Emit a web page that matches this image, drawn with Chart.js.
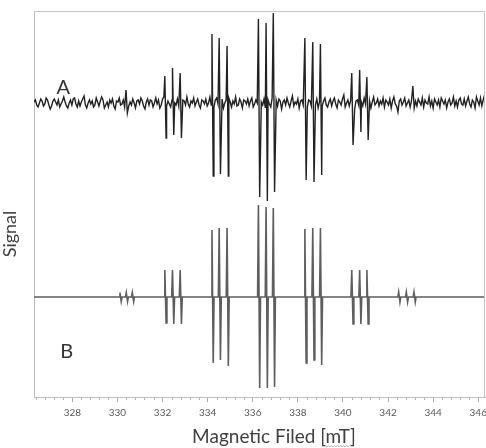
<!DOCTYPE html>
<html>
<head>
<meta charset="utf-8">
<script src="https://cdn.jsdelivr.net/npm/chart.js@4.4.1/dist/chart.umd.min.js"></script>
<style>
  html, body { margin: 0; padding: 0; background: #ffffff; }
  #wrap { width: 486px; height: 448px; }
</style>
</head>
<body>
<div id="wrap"><canvas id="spectrum" width="486" height="448"></canvas></div>
<script>
// Field axis (mT)
const fieldMin = 326.3;
const fieldMax = 346.3;
const majorTicks = [328, 330, 332, 334, 336, 338, 340, 342, 344, 346];
const minorTicks = [326.4, 326.8, 327.2, 327.6, 328.4, 328.8, 329.2, 329.6,
  330.4, 330.8, 331.2, 331.6, 332.4, 332.8, 333.2, 333.6, 334.4, 334.8, 335.2, 335.6,
  336.4, 336.8, 337.2, 337.6, 338.4, 338.8, 339.2, 339.6, 340.4, 340.8, 341.2, 341.6,
  342.4, 342.8, 343.2, 343.6, 344.4, 344.8, 345.2, 345.6];

// Signal range (arbitrary units); trace A sits on its own baseline above trace B
const signalMin = -100;
const signalMax = 286;
const baselineA = 194;

// B: simulated spectrum, seven 1:1:1 triplets
const simFields = [330.14, 330.42, 330.69, 332.13, 332.47, 332.81, 334.22, 334.54, 334.89,
  336.28, 336.62, 336.94, 338.34, 338.69, 339.03, 340.42, 340.77, 341.09, 342.50, 342.84, 343.18];
const simUp   = [4.5, 4.5, 4.5, 27, 27, 27, 67, 69, 69, 92, 90, 89, 68, 69, 69, 27, 27, 27, 5, 5, 5];
const simDown = [4.5, 4.5, 4.5, 26, 27, 27, 66, 63, 69, 91, 91, 90, 66, 63, 68, 27, 27, 27, 5, 5, 5];

// A: measured spectrum, resolved lines
const expFields = [332.13, 332.47, 332.81, 334.22, 334.54, 334.89, 336.28, 336.62, 336.94,
  338.34, 338.69, 339.03, 340.42, 340.77, 341.09];
const expUp   = [27, 35, 30, 69, 65, 57, 84, 80, 90, 65, 61, 59, 30, 33, 26];
const expDown = [35, 32, 35, 73, 71, 73, 94, 98, 89, 77, 79, 72, 42, 29, 37];

// A: baseline noise, sampled every 0.06 mT from 326.30 mT
const noiseStart = 326.30;
const noiseStep = 0.06;
const noiseA = [
  1, 3, -2, -4, 0, 4, 2, -3, -1, 5, 3, -2, -6, -3, 2, 4, 1, -2, 3, -4,
  -1, 2, 6, 1, -3, -5, 0, 3, -2, 4, 5, -1, -4, 2, -3, 1, 4, 7, -2, -5,
  0, 3, -1, 2, -4, -2, 5, 1, -3, 2, 6, 3, -5, -2, 1, -4, 3, 0, 4, -3,
  -6, 2, 1, 5, -2, -1, 3, -4, 13, -10, -3, 1, -2, 4, 0, -5, 2, 3, -1, 5,
  2, -3, -6, 1, 4, -2, 3, 2, -4, 0, 5, -1, 3, -5, -2, 4, 6, 1, -3, 2,
  -1, -4, 3, 5, 0, -2, 4, -3, -5, 1, 3, 2, -2, 6, -1, -4, 2, 0, 5, -3,
  1, 4, -2, -5, 3, 2, -1, 4, -3, 0, 6, -2, 1, -4, 3, 5, -1, -3, 2, 4,
  -5, 0, 3, -2, 5, 1, -4, 2, -1, 6, -3, -2, 4, 1, -5, 3, 2, -1, 4, -3,
  2, 5, -4, -1, 3, 0, -3, 6, 1, -2, 4, -5, 2, 3, -1, -4, 5, 1, -2, 3,
  -3, 4, 2, -6, 1, 3, -2, 5, 0, -4, 2, 7, -3, 1, -1, 4, -5, 2, 3, -2,
  5, -1, -4, 3, 2, -3, 6, 0, -2, 4, -5, 1, 3, -3, 2, 5, -2, -4, 1, 4,
  -3, 2, 5, -1, -5, 3, 1, -2, 4, 8, -4, 0, 3, -3, 2, 5, -1, -6, 2, 3,
  -2, 4, 1, -3, 5, -1, -4, 3, 2, -5, 1, 6, -2, 0, 4, -3, 2, -1, 5, -4,
  3, 1, -2, 4, -5, 2, 6, -1, -3, -9, 2, 4, -2, 1, 5, -3, 0, 3, -4, 2,
  17, -5, 2, -3, 4, 1, -2, 5, -4, 3, 0, -1, 6, -3, 2, -5, 4, 1, -2, 3,
  -4, 5, 2, -1, 3, -5, 1, 4, -2, 0, 6, -3, 2, -4, 3, 5, -1, -2, 4, -3,
  2, 6, -1, -4, 3, 1, -5, 6, 2, -2, 5, -3, 3, 8
];

// Half of the peak-to-peak separation of each derivative line (mT)
const halfSplit = 0.028;
// Baseline return on either side of a simulated line (mT)
const lineFoot = 0.065;

// Build trace A: noise samples plus the positive/negative lobe of each line
const traceA = [];
noiseA.forEach((v, i) => {
  const f = noiseStart + i * noiseStep;
  if (expFields.some(p => Math.abs(p - f) < 0.045)) return;
  traceA.push({ x: f, y: baselineA + v });
});
expFields.forEach((p, k) => {
  traceA.push({ x: p - halfSplit, y: baselineA + expUp[k] });
  traceA.push({ x: p + halfSplit, y: baselineA - expDown[k] });
});
traceA.sort((a, b) => a.x - b.x);

// Build trace B
const traceB = [{ x: fieldMin, y: 0 }];
simFields.forEach((p, k) => {
  traceB.push({ x: p - lineFoot, y: 0 });
  traceB.push({ x: p - halfSplit, y: simUp[k] });
  traceB.push({ x: p + halfSplit, y: -simDown[k] });
  traceB.push({ x: p + lineFoot, y: 0 });
});
traceB.push({ x: fieldMax, y: 0 });

const FONT = 'Lato, "Open Sans", "Liberation Sans", sans-serif';
const textColor = '#404040';

const decorations = {
  id: 'decorations',
  afterDraw(chart) {
    const { ctx, chartArea: a, scales: { x, y } } = chart;
    ctx.save();
    // frame on the top and right
    ctx.strokeStyle = '#c4c4c4';
    ctx.lineWidth = 1;
    ctx.beginPath();
    ctx.moveTo(a.left, a.top + 0.5);
    ctx.lineTo(a.right - 0.5, a.top + 0.5);
    ctx.lineTo(a.right - 0.5, a.bottom);
    ctx.stroke();
    // minor ticks
    ctx.strokeStyle = '#b5b5b5';
    ctx.beginPath();
    minorTicks.forEach(v => {
      const px = Math.round(x.getPixelForValue(v)) + 0.5;
      ctx.moveTo(px, a.bottom);
      ctx.lineTo(px, a.bottom + 3);
    });
    ctx.stroke();
    // trace labels
    ctx.fillStyle = '#333333';
    ctx.font = '20px ' + FONT;
    ctx.textAlign = 'center';
    ctx.textBaseline = 'middle';
    ctx.fillText('A', x.getPixelForValue(327.6), y.getPixelForValue(209));
    ctx.fillText('B', x.getPixelForValue(327.75), y.getPixelForValue(-55));
    // axis titles
    ctx.fillStyle = textColor;
    ctx.font = '19px ' + FONT;
    const title = 'Magnetic Filed [mT]';
    ctx.fillText(title, 274, 437);
    // wavy proofing underline beneath the unit
    const tw = ctx.measureText(title).width;
    const unitW = ctx.measureText('mT]').width;
    const bw = ctx.measureText(']').width;
    const ux0 = 274 + tw / 2 - unitW;
    const ux1 = 274 + tw / 2 - bw;
    ctx.strokeStyle = '#9aa0a8';
    ctx.lineWidth = 0.8;
    ctx.beginPath();
    for (let px = ux0, up = true; px <= ux1; px += 1.5, up = !up) {
      if (px === ux0) ctx.moveTo(px, 446.5); else ctx.lineTo(px, up ? 445.5 : 447);
    }
    ctx.stroke();
    ctx.translate(10, 234);
    ctx.rotate(-Math.PI / 2);
    ctx.font = '18px ' + FONT;
    ctx.fillText('Signal', 0, 0);
    ctx.restore();
  }
};

new Chart(document.getElementById('spectrum'), {
  type: 'line',
  data: {
    datasets: [
      { label: 'A', data: traceA, borderColor: '#222222', borderWidth: 1.4, pointRadius: 0, tension: 0, fill: false },
      { label: 'B', data: traceB, borderColor: '#5e5e5e', borderWidth: 1.6, pointRadius: 0, tension: 0, fill: false }
    ]
  },
  options: {
    responsive: false,
    animation: false,
    devicePixelRatio: 1,
    layout: { padding: { top: 11, right: 1, bottom: 0, left: 0 } },
    plugins: { legend: { display: false }, tooltip: { enabled: false } },
    scales: {
      x: {
        type: 'linear',
        min: fieldMin,
        max: fieldMax,
        afterBuildTicks: s => { s.ticks = majorTicks.map(v => ({ value: v })); },
        afterFit: s => { s.height = 51; s.paddingLeft = 0; s.paddingRight = 0; },
        ticks: {
          font: { family: FONT, size: 10 },
          color: '#595959',
          padding: 5,
          maxRotation: 0,
          autoSkip: false,
          callback: v => String(v)
        },
        grid: { drawOnChartArea: false, drawTicks: true, tickLength: 5, tickColor: '#a8a8a8' },
        border: { color: '#bdbdbd', width: 1 }
      },
      y: {
        min: signalMin,
        max: signalMax,
        afterFit: s => { s.width = 34; s.paddingTop = 0; s.paddingBottom = 0; },
        ticks: { display: false },
        grid: { display: false, drawTicks: false },
        border: { color: '#bdbdbd', width: 1 }
      }
    }
  },
  plugins: [decorations]
});
</script>
</body>
</html>
